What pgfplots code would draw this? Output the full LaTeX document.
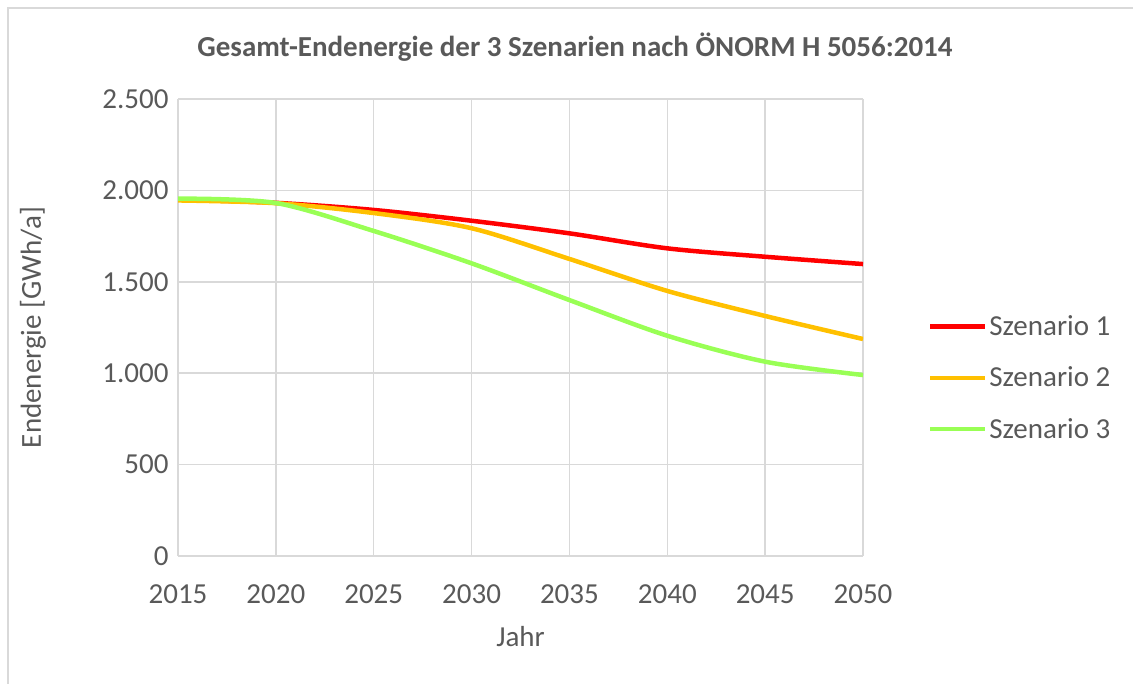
\documentclass[border=0pt]{standalone}
\usepackage{pgfplots}
\pgfplotsset{compat=1.18}
\usepackage{fontspec}
\setmainfont{Carlito}
\definecolor{txt}{RGB}{89,89,89}
\definecolor{gridc}{RGB}{217,217,217}
\definecolor{s1}{RGB}{255,0,0}
\definecolor{s2}{RGB}{255,192,0}
\definecolor{s3}{RGB}{153,255,85}
\begin{document}
\begin{tikzpicture}
\useasboundingbox (0pt,0pt) rectangle (1133pt,684pt);
\draw[gridc, line width=1.5pt] (8pt,-10pt) rectangle (1145pt,676pt);
\node[txt, font=\fontsize{29}{34}\selectfont\bfseries] at (575pt,637pt) {Gesamt-Endenergie der 3 Szenarien nach ÖNORM H 5056:2014};
\begin{axis}[
  at={(178pt,128pt)}, anchor=south west,
  scale only axis, width=685pt, height=457pt,
  xmin=2015, xmax=2050, ymin=0, ymax=2500,
  xtick={2015,2020,...,2050}, ytick={0,500,...,2500},
  grid=major, major grid style={gridc, line width=1.5pt},
  axis line style={gridc, line width=1.5pt},
  axis x line*=bottom, axis y line*=left,
  x axis line style={-}, y axis line style={draw=none},
  tick style={draw=none},
  ticklabel style={txt, font=\fontsize{29}{34}\selectfont},
  /pgf/number format/.cd, 1000 sep={.}, assume math mode=true,
  /pgfplots/.cd,
  xticklabel style={/pgf/number format/1000 sep={}, yshift=-25pt},
  yticklabel style={xshift=-6pt},
  xlabel={Jahr}, ylabel={Endenergie [GWh/a]},
  label style={txt, font=\fontsize{29}{34}\selectfont},
  xlabel style={at={(axis description cs:0.5,-0.177)}, anchor=center},
  ylabel style={at={(axis description cs:-0.2117,0.5)}, anchor=center},
  legend style={at={(1.09,0.39)}, anchor=west, draw=none, fill=none,
    font=\fontsize{29}{34}\selectfont, text=txt, row sep=26pt},
  legend cell align=left,
  legend image code/.code={\draw[#1, line width=4.5pt] (0pt,0pt) -- (55pt,0pt);},
]
\addplot[s1, line width=4.5pt, smooth] coordinates {
(2015,1950) (2020,1932) (2025,1893) (2030,1834) (2035,1765) (2040,1683) (2045,1637) (2050,1597)};
\addplot[s2, line width=4.5pt, smooth] coordinates {
(2015,1945) (2020,1930) (2025,1876) (2030,1793) (2035,1625) (2040,1450) (2045,1313) (2050,1187)};
\addplot[s3, line width=4.5pt, smooth] coordinates {
(2015,1955) (2020,1931) (2025,1778) (2030,1601) (2035,1400) (2040,1205) (2045,1063) (2050,990)};
\legend{Szenario 1, Szenario 2, Szenario 3}
\end{axis}
\end{tikzpicture}
\end{document}
